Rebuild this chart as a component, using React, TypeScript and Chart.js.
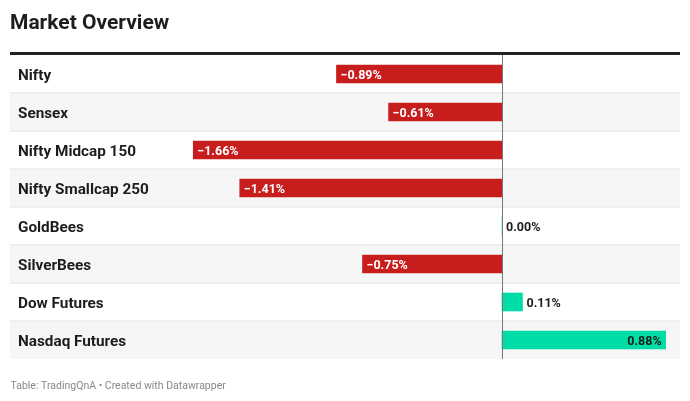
import React, { useEffect, useRef } from "react";
import { Chart, registerables } from "chart.js";

Chart.register(...registerables);

const title = "Market Overview";
const footer = "Table: TradingQnA • Created with Datawrapper";
const categories = [
  "Nifty",
  "Sensex",
  "Nifty Midcap 150",
  "Nifty Smallcap 250",
  "GoldBees",
  "SilverBees",
  "Dow Futures",
  "Nasdaq Futures",
];
const changes = [-0.89, -0.61, -1.66, -1.41, 0.0, -0.75, 0.11, 0.88];
const valueLabels = ["−0.89%", "−0.61%", "−1.66%", "−1.41%", "0.00%", "−0.75%", "0.11%", "0.88%"];

const RED = "#c71e1d";
const GREEN = "#00dca6";
const FONT = "Roboto, 'Noto Sans', sans-serif";

const tablePlugin = {
  id: "tablePlugin",
  beforeDatasetsDraw(chart: any) {
    const { ctx, chartArea, scales } = chart;
    const y = scales.y;
    const n = categories.length;
    const rowH = (chartArea.bottom - chartArea.top) / n;
    ctx.save();
    // title
    ctx.fillStyle = "#1d1d1d";
    ctx.font = `700 21px ${FONT}`;
    ctx.textBaseline = "alphabetic";
    ctx.textAlign = "left";
    ctx.fillText(title, 10, 29);
    // rows
    for (let i = 0; i < n; i++) {
      const cy = y.getPixelForValue(i);
      const top = cy - rowH / 2;
      if (i % 2 === 1) {
        ctx.fillStyle = "#f6f6f6";
        ctx.fillRect(chartArea.left, top, chartArea.right - chartArea.left, rowH);
      }
      if (i > 0) {
        ctx.fillStyle = "#e3e3e3";
        ctx.fillRect(chartArea.left, Math.round(top) - 0.5, chartArea.right - chartArea.left, 1);
      }
    }
    // header rule
    ctx.fillStyle = "#222222";
    ctx.fillRect(chartArea.left, chartArea.top - 3, chartArea.right - chartArea.left, 3);
    // footer
    ctx.fillStyle = "#888888";
    ctx.font = `400 10.5px ${FONT}`;
    ctx.fillText(footer, 10.5, 389.3);
    ctx.restore();
  },
  afterDatasetsDraw(chart: any) {
    const { ctx, chartArea, scales } = chart;
    const x = scales.x;
    const zx = Math.round(x.getPixelForValue(0)) + 0.5;
    ctx.save();
    // zero line
    ctx.strokeStyle = "#777777";
    ctx.lineWidth = 1;
    ctx.beginPath();
    ctx.moveTo(zx, chartArea.top);
    ctx.lineTo(zx, chartArea.bottom);
    ctx.stroke();
    // labels
    const meta = chart.getDatasetMeta(0);
    ctx.textBaseline = "alphabetic";
    for (let i = 0; i < categories.length; i++) {
      const bar = meta.data[i];
      const cy = bar.y;
      ctx.fillStyle = "#1d1d1d";
      ctx.font = `700 15.3px ${FONT}`;
      ctx.textAlign = "left";
      ctx.fillText(categories[i], 18, cy + 6);
      ctx.font = `700 12.5px ${FONT}`;
      const v = changes[i];
      const label = valueLabels[i];
      if (v < 0) {
        ctx.fillStyle = "#ffffff";
        ctx.textAlign = "left";
        ctx.fillText(label, bar.x + 4, cy + 5);
      } else {
        const w = bar.x - bar.base;
        const tw = ctx.measureText(label).width;
        ctx.fillStyle = "#1d1d1d";
        if (w > tw + 10) {
          ctx.textAlign = "right";
          ctx.fillText(label, bar.x - 4, cy + 5);
        } else {
          ctx.textAlign = "left";
          ctx.fillText(label, bar.x + 4, cy + 5);
        }
      }
    }
    ctx.restore();
  },
};

export default function App() {
  const ref = useRef<HTMLCanvasElement | null>(null);
  useEffect(() => {
    if (!ref.current) return;
    const chart = new Chart(ref.current, {
      type: "bar",
      data: {
        labels: categories,
        datasets: [
          {
            data: changes,
            backgroundColor: changes.map((v) => (v < 0 ? RED : GREEN)),
            borderWidth: 0,
            barThickness: 18,
          },
        ],
      },
      options: {
        indexAxis: "y",
        responsive: false,
        animation: false,
        events: [],
        layout: { padding: { left: 10, right: 10, top: 55, bottom: 42 } },
        plugins: { legend: { display: false }, tooltip: { enabled: false }, title: { display: false } },
        scales: {
          x: { type: "linear", min: -2.6452, max: 0.957, display: false, grid: { display: false } },
          y: { type: "category", display: false, grid: { display: false } },
        },
      },
      plugins: [tablePlugin],
    });
    return () => chart.destroy();
  }, []);
  return (
    <div style={{ position: "absolute", left: 0, top: 0, width: 690, height: 401, background: "#fff" }}>
      <canvas ref={ref} width={690} height={401} style={{ display: "block" }} />
    </div>
  );
}
